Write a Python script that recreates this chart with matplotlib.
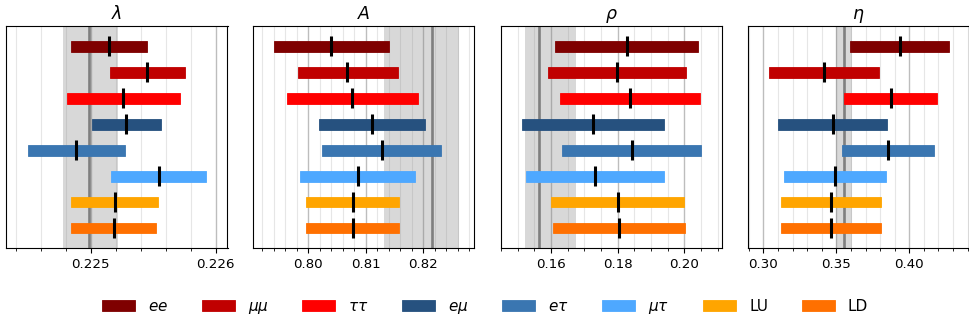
import matplotlib
matplotlib.use("Agg")
import matplotlib.pyplot as plt
from matplotlib.patches import Patch
from matplotlib.ticker import MultipleLocator, FormatStrFormatter

# Channels and colours
channels = ["$ee$", r"$\mu\mu$", r"$\tau\tau$", r"$e\mu$", r"$e\tau$", r"$\mu\tau$", "LU", "LD"]
colors = ["#7f0000", "#c00000", "#ff0000", "#26517f", "#3a76b1", "#4ea8ff", "#ffa500", "#ff7000"]

# Wolfenstein parameters: interval low / central value / interval high per channel
lam_lo = [0.224843, 0.225157, 0.224811, 0.225008, 0.224497, 0.225165, 0.224843, 0.224843]
lam_c = [0.225146, 0.225455, 0.225261, 0.225282, 0.224886, 0.225545, 0.225194, 0.225186]
lam_hi = [0.225452, 0.225755, 0.225713, 0.225561, 0.225274, 0.225928, 0.225543, 0.225527]

A_lo = [0.79401, 0.79816, 0.79625, 0.80184, 0.80242, 0.79856, 0.79965, 0.79965]
A_c = [0.80403, 0.80680, 0.80767, 0.81107, 0.81285, 0.80859, 0.80778, 0.80772]
A_hi = [0.81406, 0.81556, 0.81908, 0.82023, 0.82311, 0.81856, 0.81585, 0.81585]

rho_lo = [0.1612, 0.1592, 0.1627, 0.1513, 0.1634, 0.1525, 0.1600, 0.1605]
rho_c = [0.1827, 0.1797, 0.1837, 0.1726, 0.1842, 0.1733, 0.1800, 0.1803]
rho_hi = [0.2042, 0.2004, 0.2047, 0.1939, 0.2050, 0.1940, 0.2000, 0.2003]

eta_lo = [0.35917, 0.30413, 0.35550, 0.31009, 0.35367, 0.31422, 0.31193, 0.31193]
eta_c = [0.39335, 0.34128, 0.38716, 0.34748, 0.38532, 0.34908, 0.34610, 0.34633]
eta_hi = [0.42729, 0.37890, 0.41881, 0.38486, 0.41674, 0.38372, 0.38028, 0.38050]

# Global fit reference: central value and band edges
ref_c = [0.22499, 0.82144, 0.1565, 0.35505]
ref_lo = [0.22478, 0.81314, 0.1522, 0.34954]
ref_hi = [0.22522, 0.82611, 0.1676, 0.36055]

titles = [r"$\lambda$", r"$A$", r"$\rho$", r"$\eta$"]
xlims = [(0.224324, 0.226096), (0.79037, 0.82882), (0.1450, 0.2115), (0.28922, 0.44106)]
majors = [0.001, 0.01, 0.02, 0.05]
minors = [0.0002, 0.002, 0.005, 0.01]
fmts = ["%.3f", "%.2f", "%.2f", "%.2f"]

los = [lam_lo, A_lo, rho_lo, eta_lo]
cens = [lam_c, A_c, rho_c, eta_c]
his = [lam_hi, A_hi, rho_hi, eta_hi]

W, H = 970, 324
fig = plt.figure(figsize=(W / 100, H / 100), dpi=100)

lefts_px = [6, 252.7, 501, 747.7]
width_px = 221.5
top_px, bot_px = 26, 248

for k in range(4):
    ax = fig.add_axes([lefts_px[k] / W, (H - bot_px) / H, width_px / W, (bot_px - top_px) / H])
    ax.axvspan(ref_lo[k], ref_hi[k], color="gray", alpha=0.3, lw=0, zorder=1)
    ax.axvline(ref_c[k], color="#7f7f7f", lw=1.9, zorder=1.5)
    for i in range(len(channels)):
        ax.barh(i, his[k][i] - los[k][i], left=los[k][i], height=0.42,
                color=colors[i], edgecolor=colors[i], linewidth=0.6, alpha=1.0, zorder=3)
        ax.plot([cens[k][i], cens[k][i]], [i - 0.385, i + 0.385], color="black",
                lw=2.2, solid_capstyle="butt", zorder=4)
    ax.set_xlim(*xlims[k])
    ax.set_ylim(7.77, -0.78)
    ax.set_yticks([])
    ax.xaxis.set_major_locator(MultipleLocator(majors[k]))
    ax.xaxis.set_minor_locator(MultipleLocator(minors[k]))
    ax.xaxis.set_major_formatter(FormatStrFormatter(fmts[k]))
    ax.tick_params(axis="x", labelsize=9.6)
    ax.grid(which="major", axis="x", color="#bdbdbd", lw=1.0, zorder=0)
    ax.grid(which="minor", axis="x", color="#e6e6e6", lw=0.8, zorder=0)
    ax.set_axisbelow(True)
    ax.set_title(titles[k], fontsize=12.5, pad=5)

handles = [Patch(facecolor=c, edgecolor=c, lw=0.6) for c in colors]
fig.legend(handles, channels, loc="center", bbox_to_anchor=(0.5, 0.052), ncol=8,
           frameon=False, fontsize=11, handlelength=2.16, handletextpad=0.85,
           columnspacing=2.2)

fig.savefig("out.png", dpi=100)
